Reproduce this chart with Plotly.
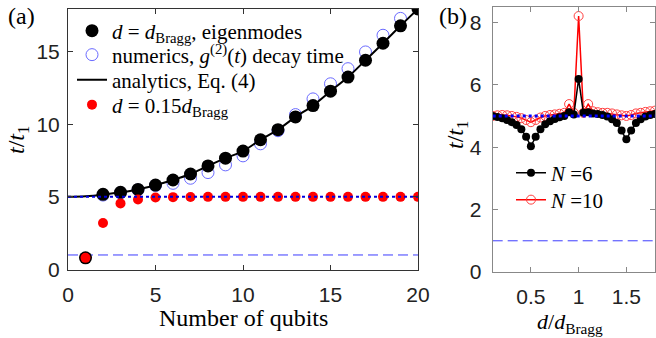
import plotly.graph_objects as go

# ---------------- data: panel (a) ----------------
qubits = list(range(1, 21))
eigen_bragg = [0.8, 5.17, 5.31, 5.51, 5.81, 6.16, 6.57, 7.13, 7.66, 8.15,
               8.93, 9.62, 10.5, 11.28, 12.27, 13.24, 14.4, 15.57, 16.77, 17.93]
numerics_n = list(range(2, 20))
numerics = [5.12, 5.28, 5.48, 5.78, 5.93, 6.28, 6.67, 7.2, 7.82, 8.65,
            9.55, 10.66, 11.74, 12.78, 13.82, 14.97, 16.12, 17.28]
analytic_n = list(range(0, 21))
analytic = [5.0, 5.04, 5.15, 5.31, 5.51, 5.81, 6.16, 6.57, 7.13, 7.66, 8.15,
            8.93, 9.62, 10.5, 11.28, 12.27, 13.24, 14.4, 15.57, 16.77, 17.93]
red_015 = [0.8, 3.2, 4.55, 4.82, 4.96, 4.98, 4.99, 5.0, 5.0, 5.0,
           5.0, 5.0, 5.0, 5.0, 5.0, 5.0, 5.0, 5.0, 5.0, 5.0]
ref_level = [5.0, 5.0]
single_level = [1.0, 1.0]
a_xlim = [0, 20]

# ---------------- data: panel (b) ----------------
d_ratio = [0.10, 0.15, 0.20, 0.25, 0.30, 0.35, 0.40, 0.45, 0.50, 0.55, 0.60, 0.65,
           0.70, 0.75, 0.80, 0.85, 0.90, 0.95, 1.00, 1.05, 1.10, 1.15, 1.20, 1.25,
           1.30, 1.35, 1.40, 1.45, 1.50, 1.55, 1.60, 1.65, 1.70, 1.75, 1.80]
n6 = [5.0, 4.97, 4.93, 4.87, 4.80, 4.71, 4.57, 4.33, 4.03, 4.33, 4.57, 4.73,
      4.83, 4.90, 4.96, 5.00, 5.12, 5.05, 6.18, 5.10, 5.12, 5.08, 5.06, 5.03,
      4.98, 4.89, 4.77, 4.53, 4.25, 4.53, 4.77, 4.89, 4.98, 5.03, 5.06]
n10 = [5.0, 5.02, 5.03, 5.02, 5.0, 4.97, 4.93, 4.87, 4.80, 4.87, 4.95, 5.0,
       5.03, 5.05, 5.07, 5.1, 5.38, 5.1, 8.2, 5.1, 5.38, 5.15, 5.12, 5.1,
       5.1, 5.08, 5.05, 5.02, 5.0, 5.03, 5.08, 5.1, 5.13, 5.15, 5.17]
b_xlim = [0.1, 1.8]

SERIF = "Liberation Serif"
SANS = "Liberation Sans"
W, H = 656, 338

fig = go.Figure()

# panel (a)
fig.add_trace(go.Scatter(x=a_xlim, y=single_level, mode="lines", showlegend=False,
                         line=dict(color="#3c3cff", width=1, dash="10px,5px"),
                         xaxis="x", yaxis="y"))
fig.add_trace(go.Scatter(x=numerics_n, y=numerics, mode="markers",
                         name="numerics, <i>g</i><sup>(2)</sup>(<i>t</i>) decay time",
                         marker=dict(symbol="circle-open", size=12, color="#6a6aff",
                                     line=dict(width=1)),
                         xaxis="x", yaxis="y", legend="legend3"))
fig.add_trace(go.Scatter(x=qubits, y=eigen_bragg, mode="markers",
                         name="<i>d</i> = <i>d</i><sub>Bragg</sub>, eigenmodes",
                         marker=dict(symbol="circle", size=13, color="black"),
                         xaxis="x", yaxis="y", legend="legend"))
fig.add_trace(go.Scatter(x=analytic_n, y=analytic, mode="lines", line_shape="spline",
                         name="analytics, Eq. (4)",
                         line=dict(color="black", width=2),
                         xaxis="x", yaxis="y", legend="legend4"))
fig.add_trace(go.Scatter(x=qubits, y=red_015, mode="markers",
                         name="<i>d</i> = 0.15<i>d</i><sub>Bragg</sub>",
                         marker=dict(symbol="circle", size=10, color="#ff0000"),
                         xaxis="x", yaxis="y", legend="legend5"))
fig.add_trace(go.Scatter(x=a_xlim, y=ref_level, mode="lines", showlegend=False,
                         line=dict(color="#0000e0", width=2, dash="dot"),
                         xaxis="x", yaxis="y"))

# panel (b)
fig.add_trace(go.Scatter(x=b_xlim, y=single_level, mode="lines", showlegend=False,
                         line=dict(color="#3c3cff", width=1, dash="10px,5px"),
                         xaxis="x2", yaxis="y2"))
fig.add_trace(go.Scatter(x=d_ratio, y=n10, mode="lines+markers", name="<i>N</i> =10",
                         line=dict(color="#ff0000", width=1.5),
                         marker=dict(symbol="circle-open", size=9, color="#ff4040",
                                     line=dict(width=1)),
                         xaxis="x2", yaxis="y2", legend="legend6"))
fig.add_trace(go.Scatter(x=d_ratio, y=n6, mode="lines+markers", name="<i>N</i> =6",
                         line=dict(color="black", width=1.5),
                         marker=dict(symbol="circle", size=8, color="black"),
                         xaxis="x2", yaxis="y2", legend="legend2"))
fig.add_trace(go.Scatter(x=b_xlim, y=ref_level, mode="lines", showlegend=False,
                         line=dict(color="#0000ff", width=3, dash="dot"),
                         xaxis="x2", yaxis="y2"))

tick_font = dict(family=SANS, size=21, color="#222")
base_axis = dict(showline=True, mirror="ticks", ticks="inside", ticklen=5,
                 showgrid=False, zeroline=False, tickfont=tick_font, automargin=False)


def legend_at(xpx, ypx, size):
    return dict(x=xpx / W, y=1 - ypx / H, xanchor="left", yanchor="middle",
                bgcolor="rgba(0,0,0,0)", tracegroupgap=0, borderwidth=0,
                font=dict(family=SERIF, size=size, color="black"))


fig.update_layout(
    width=W, height=H,
    margin=dict(l=0, r=0, t=0, b=0),
    paper_bgcolor="white", plot_bgcolor="white",
    xaxis=dict(domain=[68 / W, 418 / W], range=a_xlim, tickvals=[0, 5, 10, 15, 20],
               linecolor="#333", tickcolor="#333", anchor="y",
               ticklabelstandoff=6, **base_axis),
    yaxis=dict(domain=[(H - 269.5) / H, (H - 8.5) / H], range=[0, 17.96],
               tickvals=[0, 5, 10, 15], linecolor="#333", tickcolor="#333",
               anchor="x", ticklabelstandoff=3, **base_axis),
    xaxis2=dict(domain=[492.7 / W, 655 / W], range=b_xlim, tickvals=[0.5, 1, 1.5],
                ticktext=["0.5", "1", "1.5"],
                linecolor="#888", tickcolor="#888", anchor="y2",
                ticklabelstandoff=6, **base_axis),
    yaxis2=dict(domain=[(H - 272) / H, (H - 6.7) / H], range=[0, 8.5],
                tickvals=[0, 2, 4, 6, 8], linecolor="#888", tickcolor="#88/8".replace("/", ""),
                anchor="x2", ticklabelstandoff=6, **base_axis),
    legend=legend_at(72, 31, 21),
    legend3=legend_at(72, 55, 21),
    legend4=legend_at(72, 80, 21),
    legend5=legend_at(72, 105, 21),
    legend2=legend_at(511, 173, 21),
    legend6=legend_at(511, 200, 21),
    showlegend=True,
)

ann_font = dict(family=SERIF, size=24, color="black")
common_ann = dict(xref="paper", yref="paper", showarrow=False,
                  xanchor="center", yanchor="middle")
fig.add_annotation(text="Number of qubits", x=243 / W, y=1 - 318 / H,
                   font=ann_font, **common_ann)
fig.add_annotation(text="<i>d</i>/<i>d</i><sub>Bragg</sub>", x=570 / W, y=1 - 323 / H,
                   font=dict(family=SERIF, size=22, color="black"), **common_ann)
fig.add_annotation(text="<i>t</i>/<i>t</i><sub>1</sub>", x=18 / W, y=1 - 140 / H,
                   textangle=-90, font=ann_font, **common_ann)
fig.add_annotation(text="<i>t</i>/<i>t</i><sub>1</sub>", x=457 / W, y=1 - 135 / H,
                   textangle=-90, font=ann_font, **common_ann)
fig.add_annotation(text="(a)", x=21 / W, y=1 - 16 / H, font=ann_font, **common_ann)
fig.add_annotation(text="(b)", x=453 / W, y=1 - 16 / H, font=ann_font, **common_ann)

fig.write_html("out.html")
